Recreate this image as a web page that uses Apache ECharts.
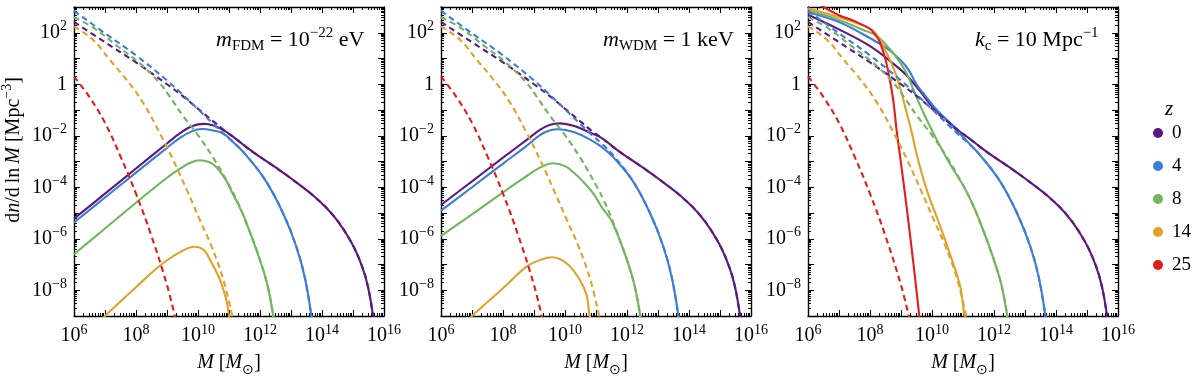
<!DOCTYPE html>
<html>
<head>
<meta charset="utf-8">
<script src="https://cdn.jsdelivr.net/npm/echarts@6/dist/echarts.min.js"></script>
<style>
  html, body { margin: 0; padding: 0; background: #fff; }
  #chart { width: 1200px; height: 376px; }
</style>
</head>
<body>
<div id="chart"></div>
<script>
// redshifts and their colours
var redshifts = ['0', '4', '8', '14', '25'];
var colors = ['#5c1a80', '#3b7dd8', '#72b55f', '#e0a22b', '#e31c1c'];

// tick labels (powers of ten)
var xLabelExps = [6, 8, 10, 12, 14, 16];
var yLabelExps = [-8, -6, -4, -2, 0, 2];

// every curve is [log10 M, log10 dn/dlnM]
// dashed CDM curves, the same in all three panels
var cdm0 = [[6, 2.42], [7, 1.63], [8, 0.85], [9, 0.0], [9.5, -0.45], [10, -0.95], [10.5, -1.45], [10.85, -1.8], [11.2, -2.1], [11.57, -2.45], [11.88, -2.72], [12.65, -3.35], [12.96, -3.62], [13.77, -4.38], [14.4, -5.15], [14.95, -6.15], [15.3, -7.1], [15.49, -7.9], [15.66, -9.1]];
var cdm4 = [[6, 2.85], [7, 1.98], [8, 1.12], [9, 0.15], [9.5, -0.4], [10, -0.97], [10.5, -1.55], [10.82, -1.92], [11.2, -2.32], [11.57, -2.78], [12.2, -3.78], [12.74, -5.0], [13.17, -6.3], [13.45, -7.53], [13.67, -9.1]];
var cdm8 = [[6, 2.6], [6.62, 2.2], [7.38, 1.5], [8.13, 0.8], [8.77, 0.04], [9.1, -0.5], [9.5, -1.2], [10, -1.98], [10.5, -2.87], [11.03, -3.98], [11.25, -4.5], [11.5, -5.2], [11.94, -6.62], [12.24, -7.8], [12.44, -9.1]];
var cdm14 = [[6, 2.25], [6.62, 1.72], [7.16, 0.94], [7.7, 0.17], [8.24, -0.74], [8.77, -1.9], [9.2, -2.94], [9.64, -4.11], [10.06, -5.27], [10.44, -6.31], [10.82, -7.6], [11.12, -9.1]];
var cdm25 = [[6, 0.3], [6.5, -0.5], [7, -1.5], [7.5, -2.8], [8, -4.25], [8.5, -5.9], [9, -7.8], [9.27, -9.1]];

// solid curves, left panel (FDM); they join the CDM curve at high mass
var fdm0 = [[6, -5.22], [7, -4.25], [8, -3.27], [9, -2.3], [9.42, -1.9], [9.8, -1.63], [10.2, -1.54], [10.5, -1.6], [10.85, -1.8]];
var fdm4 = [[6, -5.37], [7, -4.4], [8, -3.43], [9, -2.47], [9.42, -2.08], [9.8, -1.83], [10.12, -1.74], [10.5, -1.8], [10.82, -1.92]];
var fdm8 = [[6, -6.6], [7, -5.6], [8, -4.6], [9, -3.63], [9.42, -3.28], [9.75, -3.05], [10.06, -2.95], [10.35, -3.02], [10.6, -3.22], [10.9, -3.72], [11.1, -4.2], [11.25, -4.55]];
var fdm14 = [[6.9, -9.15], [7, -9.0], [8, -7.88], [8.77, -7.05], [9.42, -6.52], [9.9, -6.31], [10.2, -6.45], [10.39, -6.83], [10.6, -7.3], [10.76, -7.75], [10.92, -8.4], [11.05, -9.1]];

// middle panel (WDM)
var wdm0 = [[6, -4.69], [7, -3.77], [8, -2.85], [8.7, -2.22], [9.19, -1.77], [9.5, -1.58], [9.84, -1.52], [10.3, -1.62], [10.85, -1.9]];
var wdm4 = [[6, -4.91], [7, -4.0], [8, -3.08], [8.7, -2.45], [9.19, -1.98], [9.5, -1.8], [9.78, -1.75], [10.3, -1.86], [10.81, -2.15], [11.2, -2.45], [11.57, -2.85]];
var wdm8 = [[6, -5.89], [7, -5.05], [8, -4.2], [8.7, -3.62], [9.19, -3.24], [9.62, -3.07], [10, -3.18], [10.27, -3.42], [10.6, -3.8], [10.91, -4.24], [11.2, -4.8], [11.5, -5.3]];
var wdm14 = [[6.9, -9.15], [7, -9.0], [8, -7.92], [8.76, -7.08], [9.19, -6.83], [9.57, -6.72], [10.05, -6.95], [10.48, -7.6], [10.7, -8.2], [10.86, -9.1]];

// right panel (k_c cut-off)
var kc0 = [[6, 2.7], [7, 2.13], [8, 1.48], [8.7, 0.85], [9.2, 0.32], [9.6, -0.25], [10.03, -0.9], [10.4, -1.3], [10.85, -1.8]];
var kc4 = [[6, 2.8], [7, 2.42], [7.76, 1.95], [8.2, 1.65], [8.65, 1.3], [9.18, 0.67], [9.5, 0.0], [9.72, -0.35], [10.1, -0.92], [10.6, -1.55], [11.2, -2.3], [11.57, -2.78]];
var kc8 = [[6, 2.87], [7, 2.5], [7.76, 2.12], [8.22, 1.88], [8.5, 1.55], [8.8, 1.13], [9.17, 0.45], [9.48, -0.45], [9.8, -1.3], [10.15, -2.15], [10.58, -3.1], [11.03, -3.98]];
var kc14 = [[6, 2.95], [7, 2.6], [7.65, 2.34], [8.15, 2.02], [8.5, 1.3], [8.8, 0.5], [9.0, -0.25], [9.16, -1.0], [9.35, -1.88], [9.5, -2.7], [9.83, -4.1], [10.26, -5.5], [10.58, -6.6], [10.9, -7.8], [11.1, -9.1]];
var kc25 = [[6.35, 3.1], [6.5, 3.0], [7, 2.68], [7.5, 2.45], [8, 2.15], [8.15, 1.95], [8.3, 1.68], [8.47, 1.1], [8.62, 0.3], [8.75, -0.62], [8.86, -1.8], [8.97, -2.8], [9.18, -4.75], [9.4, -6.96], [9.6, -9.1]];

var cdm = [cdm0, cdm4, cdm8, cdm14, cdm25];
var panels = [
  [fdm0, fdm4, fdm8, fdm14, null],
  [wdm0, wdm4, wdm8, wdm14, null],
  [kc0, kc4, kc8, kc14, kc25]
];

var serif = 'Liberation Serif';
var gridLeft = [74, 441, 808];

function toXY(list) {
  return list.map(function (p) { return [Math.pow(10, p[0]), Math.pow(10, p[1])]; });
}
function withTail(head, tail) {
  var last = head[head.length - 1][0];
  return head.concat(tail.filter(function (p) { return p[0] > last; }));
}
function majors(lo, hi) {
  var out = [];
  for (var n = lo; n <= hi; n++) out.push(n);
  return out;
}
function minors(lo, hi) {
  var out = [];
  for (var n = lo; n < hi; n++) {
    for (var k = 2; k <= 9; k++) out.push(n + Math.log10(k));
  }
  return out;
}

function txt(size, lh, extra) {
  var s = { fontFamily: serif, fontSize: size, lineHeight: lh, fontWeight: 'normal', color: '#000' };
  for (var k in extra) s[k] = extra[k];
  return s;
}
var tickRich = {
  b: txt(20, 26, {}),
  s: txt(14, 14, { verticalAlign: 'top' })
};
function powLabel(v) {
  v = Math.round(v);
  if (v === 0) return '{b|1}';
  return '{b|10}{s|' + (v < 0 ? '\u2212' + (-v) : v) + '}';
}
function mathRich(size, small) {
  return {
    r: txt(size, 28, {}),
    i: txt(size, 28, { fontStyle: 'italic' }),
    sub: txt(small, small, { verticalAlign: 'bottom' }),
    sup: txt(small, small, { verticalAlign: 'top' })
  };
}
var nameRich = mathRich(20, 14);
var titleRich = mathRich(22, 15);

var frame = { color: '#000', width: 1.4 };
var tickLine = { color: '#000', width: 1 };

function axesFor(g, dim) {
  var lo = dim === 'x' ? 6 : -9;
  var hi = dim === 'x' ? 16 : 3;
  var near = dim === 'x' ? 'bottom' : 'left';
  var far = dim === 'x' ? 'top' : 'right';
  var labels = dim === 'x' ? xLabelExps : yLabelExps;
  var main = {
    type: 'log', logBase: 10, gridIndex: g, position: near,
    min: Math.pow(10, lo), max: Math.pow(10, hi),
    axisLine: { show: true, onZero: false, lineStyle: frame },
    axisTick: { show: false }, axisLabel: { show: false }, splitLine: { show: false }
  };
  if (dim === 'x') {
    main.name = '{i|M}{r| [}{i|M}{sub|\u2299}{r|]}';
    main.nameLocation = 'middle';
    main.nameGap = 33;
    main.nameTextStyle = { rich: nameRich, fontWeight: 'normal' };
  }
  function plain(pos, len, ticks, showLine) {
    return {
      type: 'value', gridIndex: g, position: pos, min: lo, max: hi,
      axisLine: { show: showLine, onZero: false, lineStyle: frame },
      axisTick: { show: true, inside: true, length: len, customValues: ticks, lineStyle: tickLine },
      axisLabel: { show: false }, splitLine: { show: false }
    };
  }
  var majorNear = plain(near, 6, majors(lo, hi), false);
  majorNear.axisLabel = {
    show: true, customValues: labels, formatter: powLabel, rich: tickRich,
    margin: dim === 'x' ? 7 : 7, fontFamily: serif, fontSize: 20, color: '#000'
  };
  return [
    main,
    majorNear,
    plain(near, 3, minors(lo, hi), false),
    plain(far, 6, majors(lo, hi), true),
    plain(far, 3, minors(lo, hi), false)
  ];
}

var grids = [], xAxes = [], yAxes = [], series = [];
gridLeft.forEach(function (left, g) {
  grids.push({ left: left, top: 7, width: 310, height: 309, containLabel: false, outerBoundsMode: 'none' });
  xAxes = xAxes.concat(axesFor(g, 'x'));
  yAxes = yAxes.concat(axesFor(g, 'y'));
  panels[g].forEach(function (head, i) {
    if (!head) return;
    series.push({
      type: 'line', name: redshifts[i], xAxisIndex: g * 5, yAxisIndex: g * 5,
      data: toXY(withTail(head, cdm[i])),
      showSymbol: false, smooth: 0.4, clip: true,
      lineStyle: { color: colors[i], width: 2.1 }, itemStyle: { color: colors[i] },
      z: 3
    });
  });
  cdm.forEach(function (curve, i) {
    series.push({
      type: 'line', name: 'CDM ' + redshifts[i], xAxisIndex: g * 5, yAxisIndex: g * 5,
      data: toXY(curve),
      showSymbol: false, smooth: 0.4, clip: true,
      lineStyle: { color: colors[i], width: 2.1, type: [6, 4] }, itemStyle: { color: colors[i] },
      z: 4
    });
  });
});

var chart = echarts.init(document.getElementById('chart'), null, { renderer: 'canvas' });
chart.setOption({
  animation: false,
  backgroundColor: '#fff',
  title: [
    { left: 216, top: 26, padding: 0, text: '{i|m}{sub|FDM}{r| = 10}{sup|\u221222}{r| eV}', textStyle: { rich: titleRich, fontWeight: 'normal' } },
    { left: 603, top: 26, padding: 0, text: '{i|m}{sub|WDM}{r| = 1 keV}', textStyle: { rich: titleRich, fontWeight: 'normal' } },
    { left: 975, top: 26, padding: 0, text: '{i|k}{sub|c}{r| = 10 Mpc}{sup|\u22121}', textStyle: { rich: titleRich, fontWeight: 'normal' } },
    { left: 1165, top: 95, padding: 0, text: '{i|z}', textStyle: { rich: mathRich(21, 14), fontWeight: 'normal' } }
  ],
  graphic: [{
    type: 'text', x: 14, y: 150, rotation: Math.PI / 2,
    style: {
      text: '{r|d}{i|n}{r|/d\u2009ln\u2009}{i|M}{r| [Mpc}{sup|\u22123}{r|]}',
      rich: nameRich, align: 'center', verticalAlign: 'middle',
      textAlign: 'center', textVerticalAlign: 'middle', fill: '#000'
    }
  }],
  legend: {
    data: redshifts, orient: 'vertical', left: 1153, top: 123, padding: 0,
    icon: 'circle', itemWidth: 10, itemHeight: 10, itemGap: 13, selectedMode: false,
    textStyle: { fontFamily: serif, fontSize: 19, lineHeight: 20, color: '#000', padding: [0, 0, 0, 4] }
  },
  grid: grids,
  xAxis: xAxes,
  yAxis: yAxes,
  series: series
});
</script>
</body>
</html>
